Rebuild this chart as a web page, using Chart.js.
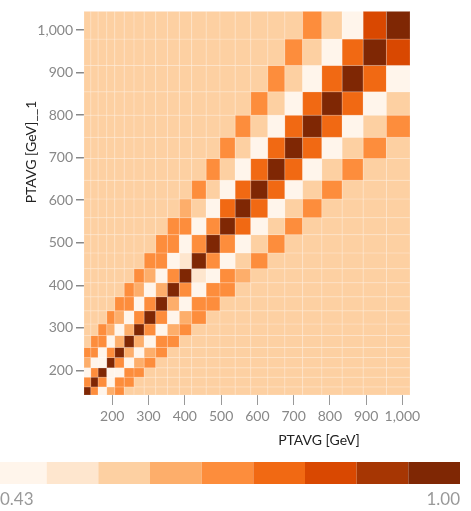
<!DOCTYPE html>
<html>
<head>
<meta charset="utf-8">
<style>
  html, body { margin: 0; padding: 0; background: #fff; }
  #wrap { width: 471px; height: 511px; }
</style>
</head>
<body>
<div id="wrap"><canvas id="heat" width="471" height="511"></canvas></div>
<script src="https://cdn.jsdelivr.net/npm/chart.js"></script>
<script>
// bin edges in GeV (23 bins on each axis)
const xBinEdges = [122, 141, 161, 185, 207, 233, 260, 288, 320, 352, 385, 419, 459, 497, 539, 582, 629, 676, 725, 778, 834, 892, 956, 1021];
const yBinEdges = [142, 161, 184, 206, 230, 254, 282, 309, 340, 373, 406, 439, 476, 519, 559, 603, 647, 698, 748, 800, 855, 917, 979, 1044];

const xTickValues = [200, 300, 400, 500, 600, 700, 800, 900, 1000];
const yTickValues = [200, 300, 400, 500, 600, 700, 800, 900, 1000];

const xTitle = "PTAVG [GeV]";
const yTitle = "PTAVG [GeV]__1";

// correlation values, one row per y bin (bottom row first), one column per x bin
const corrRows = [
  [1.00,.71,.46,.65,.71, .59,.59,.59,.59,.59, .59,.59,.59,.59,.59, .59,.59,.59,.59,.59, .59,.59,.59],
  [.71,1.00,.71,.46,.71, .71,.59,.59,.59,.59, .59,.59,.59,.59,.59, .59,.59,.59,.59,.59, .59,.59,.59],
  [.46,.71,1.00,.46,.46, .71,.71,.59,.59,.59, .59,.59,.59,.59,.59, .59,.59,.59,.59,.59, .59,.59,.59],
  [.65,.46,.46,1.00,.71, .46,.65,.71,.59,.59, .59,.59,.59,.59,.59, .59,.59,.59,.59,.59, .59,.59,.59],
  [.71,.71,.46,.71,1.00, .65,.46,.65,.71,.59, .59,.59,.59,.59,.59, .59,.59,.59,.59,.59, .59,.59,.59],
  [.59,.71,.71,.46,.65, 1.00,.65,.46,.71,.71, .59,.59,.59,.59,.59, .59,.59,.59,.59,.59, .59,.59,.59],
  [.59,.59,.71,.65,.46, .65,1.00,.71,.46,.65, .71,.59,.59,.59,.59, .59,.59,.59,.59,.59, .59,.59,.59],
  [.59,.59,.59,.71,.65, .46,.71,1.00,.71,.46, .65,.71,.59,.59,.59, .59,.59,.59,.59,.59, .59,.59,.59],
  [.59,.59,.59,.59,.71, .71,.46,.71,1.00,.65, .46,.71,.71,.59,.59, .59,.59,.59,.59,.59, .59,.59,.59],
  [.59,.59,.59,.59,.59, .71,.65,.46,.65,1.00, .71,.46,.71,.71,.59, .59,.59,.59,.59,.59, .59,.59,.59],
  [.59,.59,.59,.59,.59, .59,.71,.65,.46,.71, 1.00,.52,.46,.71,.65, .59,.59,.59,.59,.59, .59,.59,.59],
  [.59,.59,.59,.59,.59, .59,.59,.71,.71,.46, .52,1.00,.71,.46,.59, .71,.59,.59,.59,.59, .59,.59,.59],
  [.59,.59,.59,.59,.59, .59,.59,.59,.71,.71, .46,.71,1.00,.71,.46, .59,.71,.59,.59,.59, .59,.59,.59],
  [.59,.59,.59,.59,.59, .59,.59,.59,.59,.71, .71,.46,.71,1.00,.78, .46,.59,.71,.59,.59, .59,.59,.59],
  [.59,.59,.59,.59,.59, .59,.59,.59,.59,.59, .65,.59,.46,.78,1.00, .78,.46,.59,.71,.59, .59,.59,.59],
  [.59,.59,.59,.59,.59, .59,.59,.59,.59,.59, .59,.71,.59,.46,.78, 1.00,.78,.46,.59,.71, .59,.59,.59],
  [.59,.59,.59,.59,.59, .59,.59,.59,.59,.59, .59,.59,.71,.59,.46, .78,1.00,.78,.46,.59, .71,.59,.59],
  [.59,.59,.59,.59,.59, .59,.59,.59,.59,.59, .59,.59,.59,.71,.59, .46,.78,1.00,.78,.46, .59,.71,.59],
  [.59,.59,.59,.59,.59, .59,.59,.59,.59,.59, .59,.59,.59,.59,.71, .59,.46,.78,1.00,.78, .46,.59,.71],
  [.59,.59,.59,.59,.59, .59,.59,.59,.59,.59, .59,.59,.59,.59,.59, .71,.59,.46,.78,1.00, .78,.46,.59],
  [.59,.59,.59,.59,.59, .59,.59,.59,.59,.59, .59,.59,.59,.59,.59, .59,.71,.59,.46,.78, 1.00,.78,.46],
  [.59,.59,.59,.59,.59, .59,.59,.59,.59,.59, .59,.59,.59,.59,.59, .59,.59,.71,.59,.46, .78,1.00,.85],
  [.59,.59,.59,.59,.59, .59,.59,.59,.59,.59, .59,.59,.59,.59,.59, .59,.59,.59,.71,.59, .46,.85,1.00],
];

// colour scale range and its 9 steps (Oranges)
const colorDomain = [0.43, 1.0];
const colorSteps = ["#fff5eb", "#fee6ce", "#fdd0a2", "#fdae6b", "#fd8d3c", "#f16913", "#d94801", "#a63603", "#7f2704"];

function colorFor(v) {
  const t = (v - colorDomain[0]) / (colorDomain[1] - colorDomain[0]);
  const i = Math.max(0, Math.min(colorSteps.length - 1, Math.floor(t * colorSteps.length)));
  return colorSteps[i];
}

const cells = [];
corrRows.forEach((row, j) => {
  row.forEach((v, i) => {
    cells.push({
      x: (xBinEdges[i] + xBinEdges[i + 1]) / 2,
      y: (yBinEdges[j] + yBinEdges[j + 1]) / 2,
      x0: xBinEdges[i], x1: xBinEdges[i + 1],
      y0: yBinEdges[j], y1: yBinEdges[j + 1],
      v: v,
    });
  });
});

const tickFont = { family: "Lato, 'Open Sans', sans-serif", size: 14 };

const heatPlugin = {
  id: "heat",
  beforeDatasetsDraw(chart) {
    const { ctx } = chart;
    const xs = chart.scales.x;
    const ys = chart.scales.y;
    ctx.save();
    chart.data.datasets[0].data.forEach((c) => {
      const left = xs.getPixelForValue(c.x0);
      const right = xs.getPixelForValue(c.x1);
      const top = ys.getPixelForValue(c.y1);
      const bottom = ys.getPixelForValue(c.y0);
      ctx.fillStyle = colorFor(c.v);
      ctx.fillRect(left, top, right - left, bottom - top);
      ctx.strokeStyle = "rgba(255,255,255,0.18)";
      ctx.lineWidth = 1;
      ctx.strokeRect(left, top, right - left, bottom - top);
    });
    ctx.restore();
  },
  afterDraw(chart) {
    const { ctx } = chart;
    ctx.save();

    // axis titles
    ctx.fillStyle = "#222";
    ctx.font = "14px Lato, 'Open Sans', sans-serif";
    ctx.textAlign = "center";
    ctx.textBaseline = "middle";
    ctx.fillText(xTitle, 319, 440);
    ctx.translate(31, 152);
    ctx.rotate(-Math.PI / 2);
    ctx.fillText(yTitle, 0, 0);
    ctx.setTransform(1, 0, 0, 1, 0, 0);

    // colour legend strip (starts a little left of the window edge)
    const lx = -5, lw = 465, ly = 462, lh = 22;
    const sw = lw / colorSteps.length;
    colorSteps.forEach((c, k) => {
      ctx.fillStyle = c;
      ctx.fillRect(lx + k * sw, ly, sw, lh);
    });
    ctx.fillStyle = "#999";
    ctx.font = "17px Lato, 'Open Sans', sans-serif";
    ctx.textBaseline = "middle";
    ctx.textAlign = "left";
    ctx.fillText(colorDomain[0].toFixed(2), 0, 500);
    ctx.textAlign = "right";
    ctx.fillText(colorDomain[1].toFixed(2), lx + lw, 500);
    ctx.restore();
  },
};

new Chart(document.getElementById("heat"), {
  type: "scatter",
  data: {
    datasets: [
      {
        data: cells,
        pointRadius: 0,
        pointHoverRadius: 0,
        showLine: false,
      },
    ],
  },
  options: {
    responsive: false,
    animation: false,
    layout: { padding: { left: 0, top: 8, right: 61, bottom: 86 } },
    plugins: {
      legend: { display: false },
      tooltip: { enabled: false },
    },
    scales: {
      x: {
        type: "linear",
        min: xBinEdges[0],
        max: xBinEdges[xBinEdges.length - 1],
        afterBuildTicks: (axis) => {
          axis.ticks = xTickValues.map((v) => ({ value: v }));
        },
        afterFit: (axis) => {
          axis.height = 30;
        },
        border: { display: false },
        grid: { drawOnChartArea: false, tickLength: 10, color: "#999", lineWidth: 1 },
        ticks: {
          font: tickFont,
          color: "#888",
          padding: 3,
          maxRotation: 0,
          callback: (v) => v.toLocaleString("en-US"),
        },
      },
      y: {
        type: "linear",
        min: yBinEdges[0],
        max: yBinEdges[yBinEdges.length - 1],
        afterBuildTicks: (axis) => {
          axis.ticks = yTickValues.map((v) => ({ value: v }));
        },
        afterFit: (axis) => {
          axis.width = 84;
        },
        border: { display: false },
        grid: { drawOnChartArea: false, tickLength: 8, color: "#888", lineWidth: 1.5 },
        ticks: {
          font: tickFont,
          color: "#888",
          padding: 3,
          callback: (v) => v.toLocaleString("en-US"),
        },
      },
    },
  },
  plugins: [heatPlugin],
});
</script>
</body>
</html>
